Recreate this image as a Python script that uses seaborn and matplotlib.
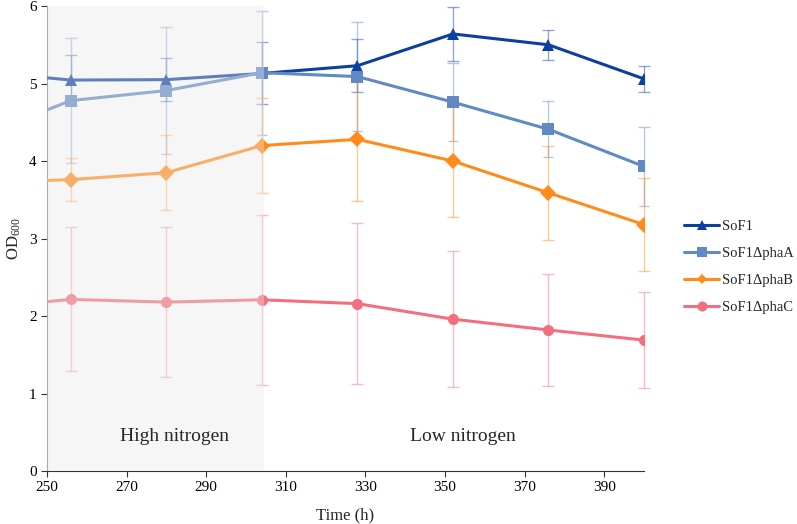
import numpy as np
import pandas as pd
import matplotlib
matplotlib.use("Agg")
import matplotlib.pyplot as plt
import matplotlib.patches as mpatches
import seaborn as sns
from matplotlib.lines import Line2D

# ---- data ----
time_h = [232, 256, 280, 304, 328, 352, 376, 400]
strains = ["SoF1", "SoF1\u0394phaA", "SoF1\u0394phaB", "SoF1\u0394phaC"]
sof1 = [5.16, 5.045, 5.05, 5.13, 5.23, 5.64, 5.50, 5.06]
sof1_err = [0.0, 0.32, 0.28, 0.40, 0.34, 0.35, 0.19, 0.17]
phaA = [4.30, 4.78, 4.91, 5.14, 5.09, 4.76, 4.41, 3.93]
phaA_err = [0.0, 0.81, 0.82, 0.80, 0.70, 0.50, 0.36, 0.51]
phaB = [3.72, 3.76, 3.85, 4.20, 4.28, 4.00, 3.59, 3.18]
phaB_err = [0.0, 0.28, 0.48, 0.61, 0.80, 0.72, 0.61, 0.60]
phaC = [2.10, 2.215, 2.18, 2.21, 2.16, 1.96, 1.82, 1.69]
phaC_err = [0.0, 0.93, 0.97, 1.10, 1.04, 0.88, 0.72, 0.62]
x_ticks = [250, 270, 290, 310, 330, 350, 370, 390]
y_ticks = [0, 1, 2, 3, 4, 5, 6]
region_labels = ["High nitrogen", "Low nitrogen"]

values = [sof1, phaA, phaB, phaC]
errors = [sof1_err, phaA_err, phaB_err, phaC_err]
colors = ["#0b3fa0", "#6189c4", "#ff8c1a", "#f2707d"]
markers = ["^", "s", "D", "o"]
msizes = [8, 8, 6.5, 8.5]

rows = []
for s, vals in zip(strains, values):
    for t, v in zip(time_h, vals):
        rows.append({"Time": t, "OD": v, "Strain": s})
df = pd.DataFrame(rows)

sns.set_style("white")
plt.rcParams["font.family"] = ["Liberation Serif", "DejaVu Serif"]
plt.rcParams["mathtext.fontset"] = "custom"
plt.rcParams["mathtext.rm"] = "Liberation Serif"
plt.rcParams["mathtext.it"] = "Liberation Serif:italic"

fig = plt.figure(figsize=(7.97, 5.24), dpi=100)
ax = fig.add_axes([0.059, 0.101, 0.749, 0.8875])

# clip region: left edge at axis, extended to the right and top so end markers show
clip_rect = mpatches.Rectangle((0, -0.05), 1.05, 1.1, transform=ax.transAxes,
                               facecolor="none", edgecolor="none")
ax.add_patch(clip_rect)

# error bars (light)
for s, vals, errs, c in zip(strains, values, errors, colors):
    eb = ax.errorbar(time_h[1:], vals[1:], yerr=errs[1:], fmt="none", ecolor=c,
                     alpha=0.45, elinewidth=1.0, capsize=4, capthick=1.0, zorder=2)
    for art in eb.lines[1] + eb.lines[2]:
        art.set_clip_path(clip_rect)

sns.lineplot(data=df, x="Time", y="OD", hue="Strain", style="Strain",
             hue_order=strains, style_order=strains, palette=colors,
             markers=dict(zip(strains, markers)), dashes=False,
             linewidth=2.2, markersize=8, markeredgewidth=0,
             ax=ax, zorder=3, legend=False)
for line, ms in zip(ax.lines, msizes):
    line.set_markersize(ms)
    line.set_clip_path(clip_rect)

# high-nitrogen shading drawn over the lines
ax.axvspan(250, 304.5, color="#e8e8e8", alpha=0.38, lw=0, zorder=5)

ax.text(282, 0.44, region_labels[0], fontsize=14, ha="center", va="center", zorder=6)
ax.text(354.5, 0.44, region_labels[1], fontsize=14, ha="center", va="center", zorder=6)

ax.set_xlim(250, 400)
ax.set_ylim(0, 6)
ax.set_xticks(x_ticks)
ax.set_yticks(y_ticks)
ax.tick_params(axis="both", labelsize=11, direction="out", length=4, width=0.8,
               colors="#333333", labelcolor="black")
ax.tick_params(axis="x", bottom=True)
ax.tick_params(axis="y", left=True)
ax.set_xlabel("Time (h)", fontsize=12, labelpad=9)
ax.set_ylabel(r"OD$_{600}$", fontsize=12, labelpad=4)
for sp in ["top", "right"]:
    ax.spines[sp].set_visible(False)
ax.spines["left"].set_color("#888888")
ax.spines["bottom"].set_color("#333333")
ax.grid(False)

handles = [Line2D([0], [0], color=c, marker=m, markersize=ms * 0.85, lw=2.2, markeredgewidth=0)
           for c, m, ms in zip(colors, markers, msizes)]
fig.legend(handles, strains, loc="center left", bbox_to_anchor=(0.855, 0.49),
           frameon=False, fontsize=10.5, handlelength=2.4, handletextpad=0.15,
           labelspacing=0.95, borderpad=0.2, borderaxespad=0.0)

fig.savefig("out.png", dpi=100)
